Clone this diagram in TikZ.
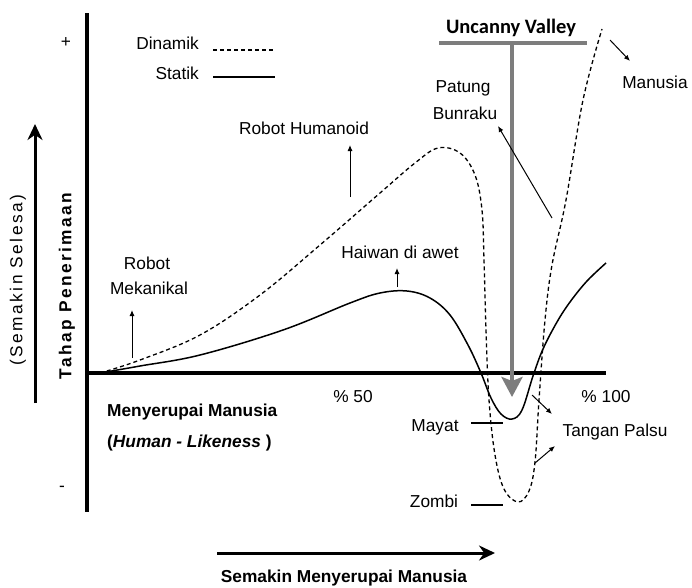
\documentclass[tikz,border=0pt]{standalone}
\usepackage{fontspec}
\setmainfont{Liberation Sans}
\newfontfamily\uvfont{Carlito}
\newfontfamily\widefont[LetterSpace=14]{Liberation Sans}
\usetikzlibrary{arrows.meta,positioning,calc}
\definecolor{uvgray}{RGB}{125,125,125}
\tikzset{
  lbl/.style={font=\fontsize{17.3}{21}\selectfont, inner sep=0pt},
  blbl/.style={lbl, font=\fontsize{17.3}{21}\selectfont\bfseries},
  axisline/.style={line width=3.5pt},
  statline/.style={line width=1.5pt},
  dynline/.style={line width=1.3pt, dash pattern=on 4pt off 3pt},
  pointer/.style={-{Latex[length=6pt,width=5pt]}, line width=1pt},
  bigarrow/.style={-{Stealth[length=16pt,width=15pt]}, line width=3pt},
  uvbar/.style={line width=4.5pt, draw=uvgray},
  uvarrow/.style={uvbar, -{Stealth[length=20pt,width=21pt,inset=4pt]}},
}

\begin{document}
\begin{tikzpicture}[x=1pt,y=-1pt]
  \useasboundingbox (0,0) rectangle (692,587);
  % axes
  \coordinate (ytop) at (87,13);
  \coordinate (ybot) at (87,512);
  \coordinate (origin) at (87,373);
  \coordinate (xend) at (606,373);
  \draw[axisline] (ytop) -- (ybot);
  \draw[axisline] (origin) -- (xend);
  \node[lbl] (plus) at (66,43) {+};
  \node[lbl] (minus) at (62,489) {-};

  % left side
  \coordinate (selesafoot) at (35,403);
  \coordinate (selesatip) at (35,124);
  \draw[bigarrow] (selesafoot) -- (selesatip);
  \node[lbl, rotate=90] (selesa) at (18,280) {\widefont (Semakin Selesa)};
  \node[lbl, rotate=90] (tahap) at (67,286) {\widefont\bfseries Tahap Penerimaan};

  % legend
  \node[lbl, anchor=east] (dinamik) at (199,43) {Dinamik};
  \node[lbl, anchor=east] (statik) at (199,73) {Statik};
  \coordinate (dynA) at (213,50);
  \coordinate (dynB) at (275,50);
  \coordinate (statA) at (213,77);
  \coordinate (statB) at (275,77);
  \draw[dynline] (dynA) -- (dynB);
  \draw[statline, line width=1.2pt] (statA) -- (statB);

  % curves
  \draw[dynline] plot[smooth, tension=0.6] coordinates {
    (100,373) (140,360) (200,335) (260,295) (320,245) (380,193) (415,163)
    (438,148) (460,153) (475,175) (482,210) (484,260) (486,330)
    (489,400) (495,455) (504,489) (518,502) (529,491) (535,462) (539,400)
    (545,320) (552,265) (566,200) (583,100) (602,29)};
  \draw[statline] plot[smooth, tension=0.6] coordinates {
    (100,373) (140,366) (200,355) (283,330) (350,303) (380,293) (407,291)
    (430,298) (450,315) (468,345) (481,373) (491,398) (501,414) (512,419)
    (522,410) (533,376) (543,349) (557,322) (570,302) (587,281) (606,263)};

  % curve labels
  \node[lbl] (humanoid) at (304,128) {Robot Humanoid};
  \coordinate (humanoidfoot) at (350,197);
  \coordinate (humanoidtip) at (350,145);
  \draw[pointer] (humanoidfoot) -- (humanoidtip);

  \node[lbl] (robot) at (147,263) {Robot};
  \node[lbl] (mekanikal) at (149,288) {Mekanikal};
  \coordinate (mekafoot) at (132,358);
  \coordinate (mekatip) at (132,310);
  \draw[pointer] (mekafoot) -- (mekatip);

  \node[lbl] (haiwan) at (400,252) {Haiwan di awet};
  \coordinate (haiwanfoot) at (397,287);
  \coordinate (haiwantip) at (397,268);
  \draw[pointer] (haiwanfoot) -- (haiwantip);

  % uncanny valley marker
  \node[font=\fontsize{20.5}{24}\selectfont\uvfont\bfseries, inner sep=0pt] (uncanny) at (511,28) {Uncanny Valley};
  \coordinate (uvleft) at (439,43);
  \coordinate (uvright) at (587,43);
  \coordinate (uvtop) at (512,43);
  \coordinate (uvtip) at (512,397);
  \draw[uvbar] (uvleft) -- (uvright);
  \draw[uvarrow] (uvtop) -- (uvtip);

  \node[lbl] (patung) at (463,88) {Patung};
  \node[lbl] (bunraku) at (465,113) {Bunraku};
  \coordinate (bunrakufoot) at (552,218);
  \coordinate (bunrakutip) at (498,126);
  \draw[pointer] (bunrakufoot) -- (bunrakutip);

  \node[lbl] (manusia) at (655,82) {Manusia};
  \coordinate (manusiafoot) at (610,40);
  \coordinate (manusiatip) at (630,61);
  \draw[pointer] (manusiafoot) -- (manusiatip);

  % x axis labels
  \node[lbl] (p50) at (353,397) {\% 50};
  \node[lbl] (p100) at (606,397) {\% 100};
  \node[blbl, anchor=west] (menyerupai) at (107,412) {Menyerupai Manusia};
  \node[blbl, anchor=west] (likeness) at (107,443) {(\textit{Human - Likeness} )};

  % valley labels
  \node[lbl] (mayat) at (435,427) {Mayat};
  \coordinate (mayatA) at (471,423);
  \coordinate (mayatB) at (503,423);
  \draw[line width=1.2pt] (mayatA) -- (mayatB);
  \node[lbl] (zombi) at (434,501) {Zombi};
  \coordinate (zombiA) at (471,505);
  \coordinate (zombiB) at (503,505);
  \draw[line width=1.2pt] (zombiA) -- (zombiB);

  \node[lbl] (tangan) at (615,432) {Tangan Palsu};
  \coordinate (tanganfootA) at (532,395);
  \coordinate (tangantipA) at (552,414);
  \coordinate (tanganfootB) at (535,463);
  \coordinate (tangantipB) at (555,446);
  \draw[pointer] (tanganfootA) -- (tangantipA);
  \draw[pointer] (tanganfootB) -- (tangantipB);

  % bottom
  \coordinate (semakinfoot) at (217,553);
  \coordinate (semakintip) at (495,553);
  \draw[bigarrow] (semakinfoot) -- (semakintip);
  \node[blbl] (semakin) at (344,578) {Semakin Menyerupai Manusia};
\end{tikzpicture}
\end{document}
